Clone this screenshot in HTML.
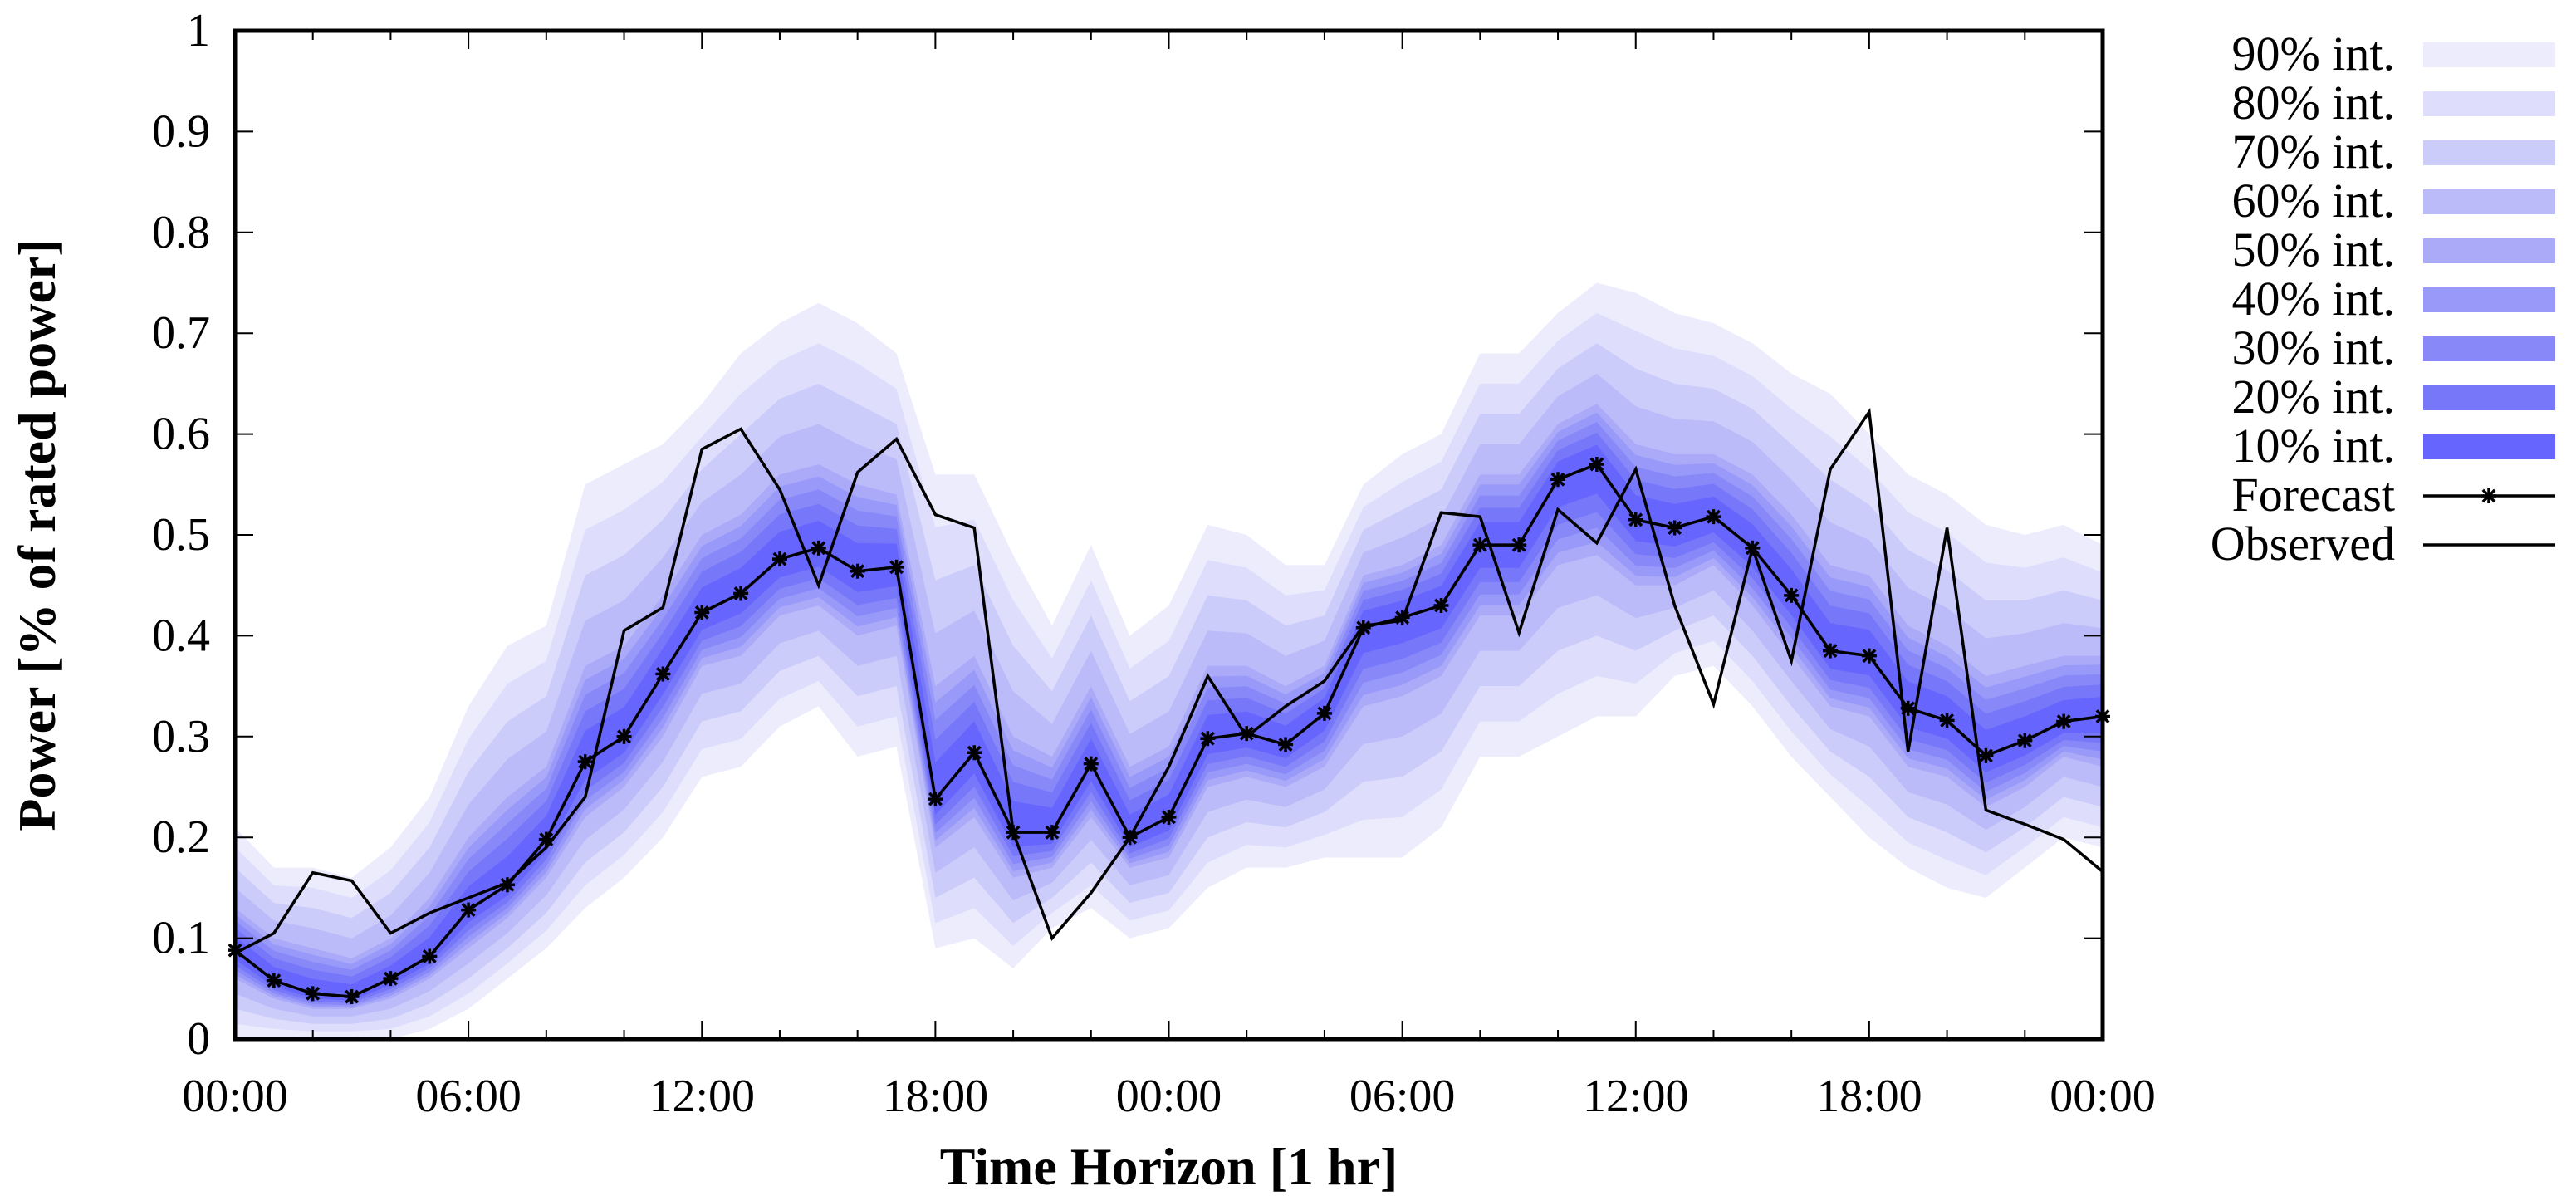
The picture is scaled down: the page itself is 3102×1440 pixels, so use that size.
<!DOCTYPE html>
<html><head><meta charset="utf-8"><style>
html,body{margin:0;padding:0;background:#fff}
svg{display:block;font-family:"Liberation Serif",serif}
</style></head><body>
<svg id="chart" width="3102" height="1440" viewBox="0 0 3102 1440" xmlns="http://www.w3.org/2000/svg"></svg>
<script>
const hours = [0,1,2,3,4,5,6,7,8,9,10,11,12,13,14,15,16,17,18,19,20,21,22,23,24,25,26,27,28,29,30,31,32,33,34,35,36,37,38,39,40,41,42,43,44,45,46,47,48];
const forecast = [.088,.058,.045,.042,.06,.082,.128,.153,.198,.275,.30,.362,.423,.442,.476,.487,.464,.468,.238,.284,.205,.205,.273,.2,.22,.298,.303,.292,.323,.408,.418,.43,.49,.49,.555,.57,.515,.507,.518,.487,.44,.385,.38,.328,.316,.281,.296,.315,.32];
const observed = [.085,.105,.165,.157,.105,.125,.14,.155,.19,.24,.405,.428,.585,.605,.545,.45,.562,.595,.52,.507,.205,.1,.145,.2,.27,.36,.3,.33,.355,.41,.415,.522,.518,.403,.525,.492,.565,.43,.332,.487,.375,.565,.622,.285,.507,.227,.213,.198,.166];
const upper90 = [.21,.17,.17,.16,.19,.24,.33,.39,.41,.55,.57,.59,.63,.68,.71,.73,.71,.68,.56,.56,.48,.41,.49,.40,.43,.51,.50,.47,.47,.55,.58,.60,.68,.68,.72,.75,.74,.72,.71,.69,.66,.64,.60,.56,.54,.51,.50,.51,.49];
const lower90 = [0,0,0,0,0,.01,.03,.06,.09,.13,.16,.20,.26,.27,.31,.33,.28,.29,.09,.10,.07,.11,.13,.10,.11,.15,.17,.17,.18,.18,.18,.21,.28,.28,.30,.32,.32,.36,.37,.33,.28,.24,.20,.17,.15,.14,.17,.20,.19];
const upper50 = [.13,.10,.09,.08,.10,.14,.20,.24,.27,.37,.39,.44,.50,.52,.56,.57,.55,.54,.35,.38,.30,.28,.35,.27,.29,.37,.37,.35,.37,.46,.47,.49,.56,.56,.61,.63,.59,.58,.58,.56,.52,.47,.46,.41,.39,.36,.37,.38,.38];
const lower50 = [.06,.04,.03,.03,.04,.06,.09,.12,.16,.22,.25,.30,.37,.38,.42,.43,.40,.41,.19,.22,.16,.17,.22,.17,.18,.25,.26,.25,.27,.33,.34,.36,.42,.42,.47,.48,.45,.45,.47,.43,.38,.33,.32,.27,.26,.23,.25,.28,.27];
const levels = [90,80,70,60,50,40,30,20,10];
const levelColors = ["#ececfd","#dedefc","#ccccfb","#bbbbfa","#aaaaf9","#9999f9","#8888f9","#7777fa","#6666fe"];
const yTicks = [0,0.1,0.2,0.3,0.4,0.5,0.6,0.7,0.8,0.9,1];
const yTickLabels = ["0","0.1","0.2","0.3","0.4","0.5","0.6","0.7","0.8","0.9","1"];
const xTickHours = [0,6,12,18,24,30,36,42,48];
const xTickLabels = ["00:00","06:00","12:00","18:00","00:00","06:00","12:00","18:00","00:00"];

const NS="http://www.w3.org/2000/svg";
const svg=document.getElementById('chart');
const L=283,R=2532,T=37,B=1251;
const X=h=>L+(h-0)/(48-0)*(R-L);
const Y=v=>B-(v-0)/(1-0)*(B-T);
function mk(tag,attrs,parent){const e=document.createElementNS(NS,tag);for(const k in attrs)e.setAttribute(k,attrs[k]);(parent||svg).appendChild(e);return e;}
function bound(lv,i,up){
  const f=forecast[i];
  const b50=up?upper50[i]:lower50[i], b90=up?upper90[i]:lower90[i];
  if(lv<=50) return f+Math.pow(lv/50,0.7)*(b50-f);
  return b50+((lv-50)/40)*(b90-b50);
}
const bands=mk('g',{});


levels.forEach((lv,k)=>{
  let pts=[];
  hours.forEach((h,i)=>pts.push(X(h).toFixed(1)+','+Y(bound(lv,i,true)).toFixed(1)));
  for(let i=hours.length-1;i>=0;i--) pts.push(X(hours[i]).toFixed(1)+','+Y(bound(lv,i,false)).toFixed(1));
  const p=mk('polygon',{points:pts.join(' '),fill:levelColors[k]},bands);
  
  
});
const obs=mk('polyline',{points:hours.map((h,i)=>X(h).toFixed(1)+','+Y(observed[i]).toFixed(1)).join(' '),fill:'none',stroke:'#000','stroke-width':3.5});


const fc=mk('polyline',{points:hours.map((h,i)=>X(h).toFixed(1)+','+Y(forecast[i]).toFixed(1)).join(' '),fill:'none',stroke:'#000','stroke-width':3.5});


function star(cx,cy,parent,name){
  const g=mk('g',{stroke:'#000','stroke-width':3.5},parent);
  
  
  const s=9;
  mk('line',{x1:cx-s,y1:cy,x2:cx+s,y2:cy},g);
  mk('line',{x1:cx,y1:cy-s,x2:cx,y2:cy+s},g);
  mk('line',{x1:cx-s*0.8,y1:cy-s*0.8,x2:cx+s*0.8,y2:cy+s*0.8},g);
  mk('line',{x1:cx-s*0.8,y1:cy+s*0.8,x2:cx+s*0.8,y2:cy-s*0.8},g);
}
hours.forEach((h,i)=>star(X(h),Y(forecast[i]),svg,'forecast-point'));
const ax=mk('g',{stroke:'#000','stroke-width':2});


yTicks.forEach(v=>{mk('line',{x1:L,y1:Y(v),x2:L+22,y2:Y(v)},ax);mk('line',{x1:R,y1:Y(v),x2:R-22,y2:Y(v)},ax);});
for(let h=0;h<=48;h+=2){const len=(h%6===0)?22:11;mk('line',{x1:X(h),y1:B,x2:X(h),y2:B-len},ax);mk('line',{x1:X(h),y1:T,x2:X(h),y2:T+len},ax);}
const frame=mk('rect',{x:L,y:T,width:R-L,height:B-T,fill:'none',stroke:'#000','stroke-width':5});


yTicks.forEach((v,i)=>{const t=mk('text',{x:L-30,y:Y(v)+18,'text-anchor':'end','font-size':56});t.textContent=yTickLabels[i];

});
xTickHours.forEach((h,i)=>{const t=mk('text',{x:X(h),y:1338,'text-anchor':'middle','font-size':56});t.textContent=xTickLabels[i];

});
const xt=mk('text',{x:(L+R)/2,y:1426,'text-anchor':'middle','font-size':64,'font-weight':'bold'});xt.textContent='Time Horizon [1 hr]';


const yt=mk('text',{x:0,y:0,'text-anchor':'middle','font-size':64,'font-weight':'bold',transform:'translate(66,'+((T+B)/2)+') rotate(-90)'});yt.textContent='Power [% of rated power]';


const lg=mk('g',{});


levels.forEach((lv,k)=>{
  const cy=66+k*59;
  const t=mk('text',{x:2884,y:cy+18,'text-anchor':'end','font-size':58},lg);t.textContent=lv+'% int.';
  
  
  const r=mk('rect',{x:2918,y:cy-15,width:159,height:30,fill:levelColors[k]},lg);
  
  
});
const fy=66+9*59, oy=66+10*59;
const ft=mk('text',{x:2884,y:fy+18,'text-anchor':'end','font-size':58},lg);ft.textContent='Forecast';


mk('line',{x1:2918,y1:fy,x2:3077,y2:fy,stroke:'#000','stroke-width':3.5},lg);
star(2997,fy,lg,'legend-forecast-marker');
const ot=mk('text',{x:2884,y:oy+18,'text-anchor':'end','font-size':58},lg);ot.textContent='Observed';


mk('line',{x1:2918,y1:oy,x2:3077,y2:oy,stroke:'#000','stroke-width':3.5},lg);
</script>
</body></html>
